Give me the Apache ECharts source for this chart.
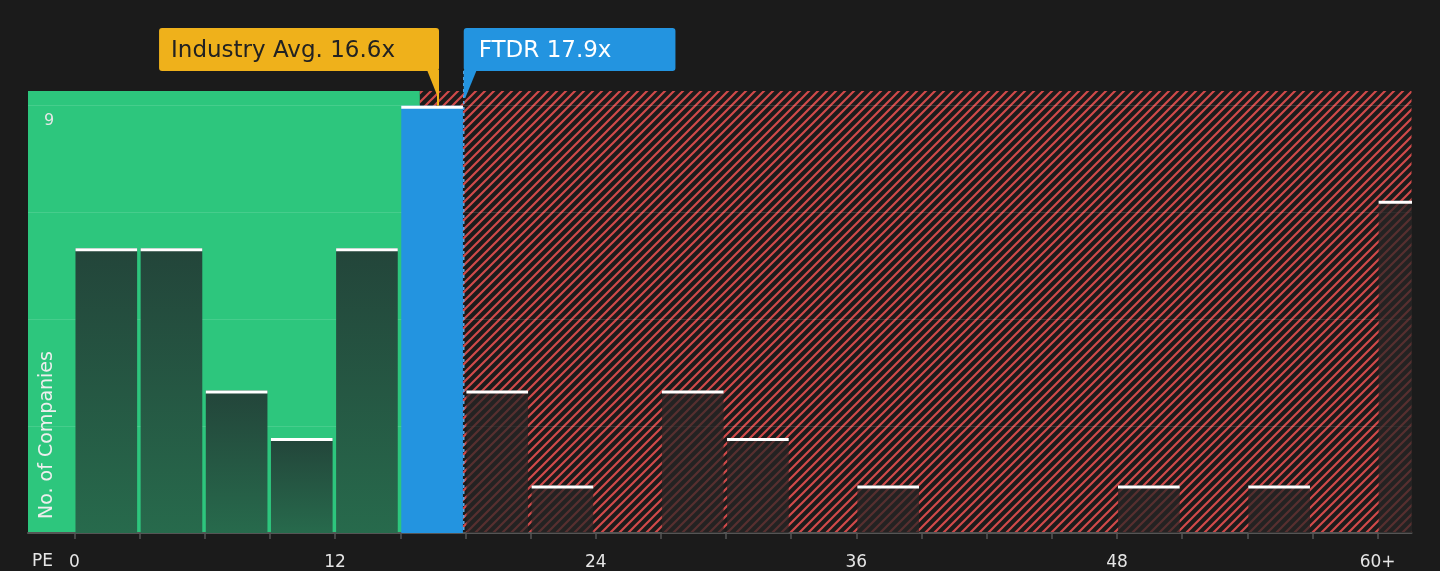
<!DOCTYPE html>
<html><head><meta charset="utf-8">
<script src="https://cdn.jsdelivr.net/npm/echarts@6/dist/echarts.min.js"></script>
<style>html,body{margin:0;padding:0;background:#1b1b1b;}#c{width:1440px;height:571px;}</style>
</head><body><div id="c"></div>
<script>
// ---- data ----
const binStarts = [0,3,6,9,12,15,18,21,24,27,30,33,36,39,42,45,48,51,54,57,60];
const binCounts = [6,6,3,2,6,9,3,1,0,3,2,0,1,0,0,0,1,0,1,0,7];
const binWidth = 3;
const xTickValues = [0,3,6,9,12,15,18,21,24,27,30,33,36,39,42,45,48,51,54,57,60];
const xLabelValues = [0,12,24,36,48,60];
const yLabelValues = [9];
const industryAvg = 16.6;
const companyPE = 17.9;
const industryLabel = 'Industry Avg. 16.6x';
const companyLabel = 'FTDR 17.9x';
const goodValueEnd = 15.9;
const xMin = -2.14, xMax = 61.56;
const yMax = 9.31, yInterval = 2.25;

const FONT = 'DejaVu Sans';
const GREEN = '#2dc67d', BLUE = '#2394e0', YELLOW = '#efb11b';

// hatch pattern
const pc = document.createElement('canvas'); pc.width = 9; pc.height = 9;
const g = pc.getContext('2d'); g.strokeStyle = '#d04a4a'; g.lineWidth = 2.2;
g.beginPath();
g.moveTo(0,9); g.lineTo(9,0);
g.moveTo(-2,2); g.lineTo(2,-2);
g.moveTo(7,11); g.lineTo(11,7);
g.stroke();
const hatch = { image: pc, repeat: 'repeat' };

const chart = echarts.init(document.getElementById('c'), null, { renderer: 'canvas' });
const maxCount = Math.max(...binCounts);

const option = {
  backgroundColor: '#1b1b1b',
  animation: false,
  grid: { left: 28, right: 28.5, top: 91, bottom: 37 },
  xAxis: {
    type: 'value', min: xMin, max: xMax,
    splitLine: { show: false },
    axisLine: { lineStyle: { color: '#555', width: 2 } },
    axisTick: { customValues: xTickValues, length: 6, lineStyle: { color: '#555', width: 1.5 } },
    axisLabel: { customValues: xLabelValues, formatter: v => v === 60 ? '60+' : String(v),
      color: '#e6e6e6', fontSize: 17, fontFamily: FONT, margin: 21 }
  },
  yAxis: {
    type: 'value', min: 0, max: yMax, interval: yInterval,
    axisLine: { show: false }, axisTick: { show: false },
    splitLine: { showMaxLine: false, lineStyle: { color: 'rgba(255,255,255,0.12)', width: 1 } },
    axisLabel: { inside: true, margin: 16, formatter: v => yLabelValues.includes(v) ? String(v) : '',
      color: '#e6e6e6', fontSize: 16, fontFamily: FONT, verticalAlign: 'top', padding: [7,0,0,0] }
  },
  graphic: [
    { type: 'text', x: 32, y: 562, style: { text: 'PE', font: '17px ' + FONT, fill: '#e6e6e6', verticalAlign: 'middle' } },
    { type: 'text', x: 47, y: 519, rotation: Math.PI / 2,
      style: { text: 'No. of Companies', font: '19px ' + FONT, fill: '#eeeeee', align: 'left', verticalAlign: 'middle' } }
  ],
  series: [
    {
      type: 'custom', z: -1, silent: true,
      data: [[xMin, goodValueEnd, 0], [goodValueEnd, xMax, 1]],
      renderItem(params, api) {
        const p0 = api.coord([api.value(0), yMax]);
        const p1 = api.coord([api.value(1), 0]);
        return { type: 'rect', shape: { x: p0[0], y: p0[1], width: p1[0] - p0[0], height: p1[1] - p0[1] },
          style: { fill: api.value(2) === 0 ? GREEN : hatch } };
      }
    },
    {
      type: 'custom', z: 2, clip: true, silent: true,
      data: binStarts.map((s, i) => [s, binCounts[i]]),
      renderItem(params, api) {
        const s = api.value(0), c = api.value(1);
        if (!c) return null;
        const top = api.coord([s, c]), bot = api.coord([s + binWidth, 0]);
        const x = top[0] + 1, w = bot[0] - top[0] - 3.5, y = top[1], h = bot[1] - top[1];
        const isCompany = companyPE >= s && companyPE < s + binWidth;
        let fill;
        if (isCompany) fill = BLUE;
        else if (s < goodValueEnd) fill = new echarts.graphic.LinearGradient(0, 0, 0, 1,
          [{ offset: 0, color: '#23453a' }, { offset: 1, color: '#276a4c' }]);
        else fill = 'rgba(40,37,37,0.72)';
        return { type: 'group', children: [
          { type: 'rect', shape: { x, y, width: w, height: h }, style: { fill } },
          { type: 'rect', shape: { x, y, width: w, height: 3 }, style: { fill: '#ffffff' } }
        ] };
      }
    },
    {
      type: 'custom', z: 5, clip: false, silent: true,
      data: [[industryAvg, 0], [companyPE, 1]],
      renderItem(params, api) {
        const v = api.value(0), kind = api.value(1);
        const px = api.coord([v, 0])[0];
        const yTop = api.coord([v, maxCount])[1];
        const cs = params.coordSys;
        const yb = cs.y - 20, boxH = 43, yt = yb - boxH;
        if (kind === 0) {
          const ax = px + 3;
          return { type: 'group', children: [
            { type: 'line', shape: { x1: ax, y1: yb, x2: ax, y2: yTop }, style: { stroke: YELLOW, lineWidth: 2 } },
            { type: 'polygon', shape: { points: [[ax - 11, yb - 1], [ax + 1, yb - 1], [ax + 1, yb + 24], [ax - 1, yb + 24]] }, style: { fill: YELLOW } },
            { type: 'text', style: { text: industryLabel, x: ax + 1, y: yt, align: 'right', verticalAlign: 'top',
              font: '23px ' + FONT, fill: '#222222', backgroundColor: YELLOW, padding: [11, 44, 8, 12], lineHeight: 24, borderRadius: 3 } }
          ] };
        } else {
          const bx = px + 0.5;
          return { type: 'group', children: [
            { type: 'line', shape: { x1: bx, y1: yb, x2: bx, y2: cs.y + cs.height }, style: { stroke: '#5aa6e0', lineWidth: 1.5, lineDash: [3, 3] } },
            { type: 'polygon', shape: { points: [[bx, yb - 1], [bx + 13, yb - 1], [bx + 1.5, yb + 27], [bx, yb + 27]] }, style: { fill: BLUE } },
            { type: 'text', style: { text: companyLabel, x: bx, y: yt, align: 'left', verticalAlign: 'top',
              font: '23px ' + FONT, fill: '#ffffff', backgroundColor: BLUE, padding: [11, 64, 8, 15], lineHeight: 24, borderRadius: 3 } }
          ] };
        }
      }
    }
  ]
};
chart.setOption(option);
</script></body></html>
